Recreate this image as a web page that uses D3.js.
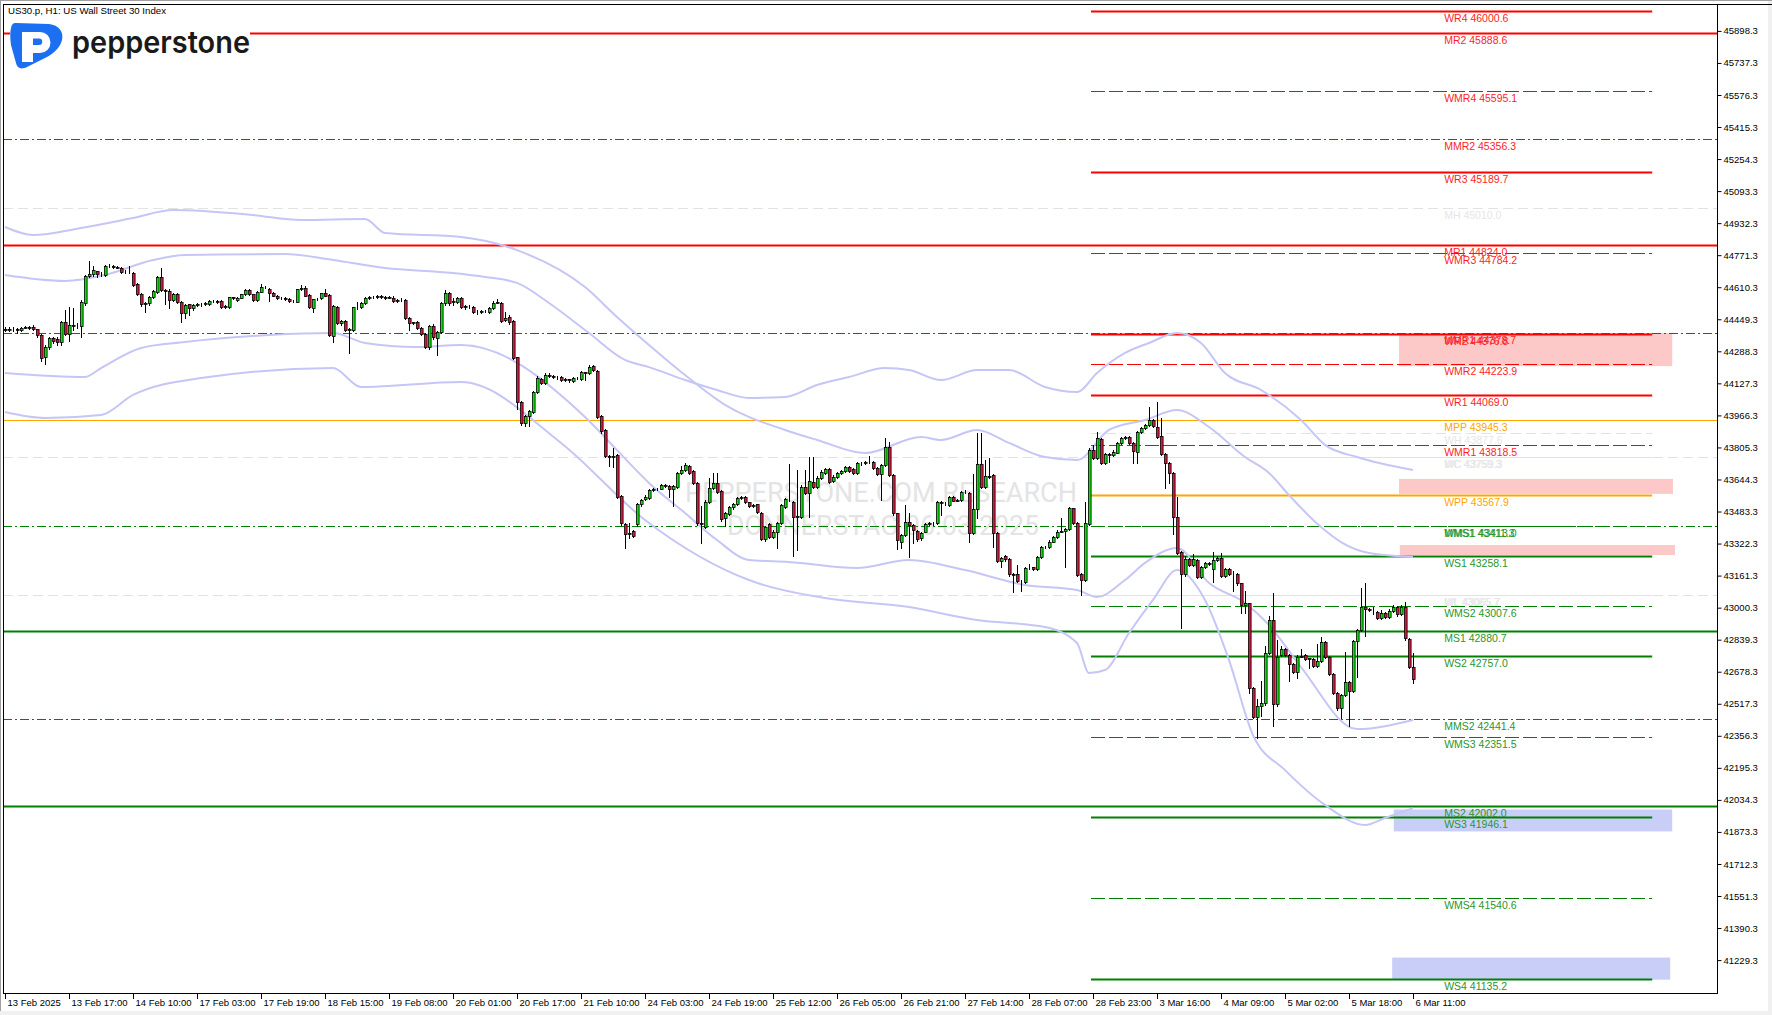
<!DOCTYPE html>
<html>
<head>
<meta charset="utf-8">
<script src="https://cdn.jsdelivr.net/npm/d3@7/dist/d3.min.js"></script>
<style>
body { margin: 0; background: #fff; }
svg { display: block; font-family: "Liberation Sans", Arial, sans-serif; }
</style>
</head>
<body>
<div id="chart"></div>
<script>
// ---- data ----
var symbolTitle = 'US30.p, H1:  US Wall Street 30 Index';

var priceTicks = [45898.3, 45737.3, 45576.3, 45415.3, 45254.3, 45093.3, 44932.3, 44771.3, 44610.3,
    44449.3, 44288.3, 44127.3, 43966.3, 43805.3, 43644.3, 43483.3, 43322.3, 43161.3, 43000.3,
    42839.3, 42678.3, 42517.3, 42356.3, 42195.3, 42034.3, 41873.3, 41712.3, 41551.3, 41390.3, 41229.3];

var timeLabels = ['13 Feb 2025', '13 Feb 17:00', '14 Feb 10:00', '17 Feb 03:00', '17 Feb 19:00',
    '18 Feb 15:00', '19 Feb 08:00', '20 Feb 01:00', '20 Feb 17:00', '21 Feb 10:00', '24 Feb 03:00',
    '24 Feb 19:00', '25 Feb 12:00', '26 Feb 05:00', '26 Feb 21:00', '27 Feb 14:00', '28 Feb 07:00',
    '28 Feb 23:00', '3 Mar 16:00', '4 Mar 09:00', '5 Mar 02:00', '5 Mar 18:00', '6 Mar 11:00'];

// H1 candles, [open, high, low, close]
var ohlc = [
[44398,44408,44388,44396],[44396,44410,44390,44400],[44400,44408,44392,44398],[44398,44404,44380,44395],
[44395,44412,44390,44407],[44407,44418,44403,44410],[44410,44415,44398,44406],[44412,44420,44395,44399],
[44399,44402,44362,44370],[44370,44375,44241,44256],[44261,44320,44223,44312],[44312,44360,44300,44354],
[44354,44362,44330,44340],[44350,44358,44318,44333],[44337,44440,44318,44434],[44434,44496,44370,44374],
[44374,44510,44340,44420],[44420,44504,44395,44416],[44416,44430,44405,44418],[44418,44545,44362,44538],
[44530,44672,44520,44667],[44667,44742,44660,44675],[44675,44718,44668,44695],[44690,44692,44663,44678],
[44678,44688,44668,44677],[44672,44722,44665,44719],[44719,44726,44710,44716],[44716,44722,44708,44713],
[44713,44716,44705,44709],[44709,44712,44680,44685],[44685,44695,44680,44688],[44688,44717,44682,44685],
[44680,44688,44615,44621],[44625,44632,44570,44576],[44578,44582,44518,44524],[44524,44535,44484,44529],
[44529,44565,44522,44559],[44559,44595,44555,44591],[44588,44665,44580,44662],[44662,44709,44590,44596],
[44596,44600,44524,44593],[44591,44600,44504,44546],[44546,44580,44540,44576],[44576,44582,44530,44538],
[44538,44542,44434,44479],[44479,44524,44454,44521],[44524,44528,44471,44507],[44504,44525,44498,44521],
[44521,44530,44515,44524],[44524,44532,44518,44528],[44528,44535,44520,44529],[44524,44545,44520,44541],
[44541,44546,44535,44540],[44540,44545,44530,44537],[44541,44545,44508,44513],[44513,44520,44508,44516],
[44513,44562,44508,44560],[44560,44562,44550,44554],[44546,44562,44540,44558],[44558,44578,44555,44576],
[44576,44600,44570,44596],[44596,44600,44570,44575],[44575,44578,44540,44546],[44546,44590,44540,44588],
[44588,44625,44585,44611],[44611,44615,44608,44612],[44601,44605,44541,44580],[44583,44588,44565,44568],
[44568,44570,44550,44555],[44555,44562,44552,44558],[44558,44560,44545,44551],[44551,44555,44538,44541],
[44541,44546,44536,44540],[44538,44602,44535,44600],[44600,44622,44598,44608],[44608,44615,44565,44568],
[44571,44575,44505,44509],[44504,44552,44488,44549],[44549,44556,44545,44551],[44554,44583,44550,44580],
[44580,44600,44565,44568],[44571,44575,44365,44370],[44367,44520,44337,44516],[44509,44515,44425,44429],
[44429,44445,44420,44440],[44440,44445,44390,44395],[44395,44405,44278,44399],[44395,44512,44390,44509],
[44509,44538,44500,44512],[44512,44535,44508,44529],[44529,44560,44525,44554],[44554,44568,44550,44563],
[44563,44568,44555,44560],[44560,44570,44556,44566],[44566,44570,44555,44561],[44561,44566,44552,44558],
[44558,44568,44554,44563],[44558,44568,44538,44541],[44541,44550,44538,44546],[44546,44555,44540,44544],
[44546,44552,44452,44457],[44457,44462,44395,44429],[44429,44438,44425,44434],[44437,44442,44398,44404],
[44404,44408,44368,44373],[44373,44378,44305,44312],[44312,44422,44300,44417],[44417,44425,44352,44360],
[44357,44390,44270,44383],[44383,44535,44378,44529],[44529,44595,44520,44580],[44580,44585,44520,44529],
[44535,44555,44520,44541],[44538,44562,44530,44558],[44556,44560,44505,44509],[44509,44522,44500,44516],
[44516,44522,44508,44518],[44512,44515,44480,44484],[44484,44495,44478,44488],[44488,44496,44482,44489],
[44489,44498,44485,44492],[44487,44510,44482,44504],[44504,44540,44500,44533],[44533,44549,44530,44538],
[44529,44535,44438,44442],[44446,44487,44440,44457],[44462,44470,44425,44437],[44440,44445,44250,44256],
[44258,44262,44000,44035],[44035,44040,43920,43930],[43926,43970,43915,43963],[43965,43995,43913,43988],
[43985,44090,43980,44085],[44085,44165,44080,44152],[44149,44155,44122,44127],[44127,44180,44122,44169],
[44169,44180,44160,44164],[44164,44170,44152,44157],[44157,44165,44150,44160],[44161,44165,44140,44144],
[44144,44152,44140,44147],[44147,44150,44132,44143],[44139,44160,44135,44156],[44156,44160,44148,44152],
[44147,44190,44142,44182],[44182,44186,44144,44180],[44180,44218,44175,44211],[44214,44218,44190,44194],
[44190,44195,43955,43960],[43963,43968,43880,43889],[43893,43898,43755,43762],[43762,43768,43712,43755],
[43755,43800,43708,43762],[43767,43772,43550,43558],[43561,43565,43418,43424],[43420,43425,43301,43368],
[43368,43424,43348,43373],[43385,43390,43355,43362],[43419,43525,43412,43519],[43519,43548,43512,43541],
[43544,43565,43540,43558],[43553,43598,43548,43591],[43591,43600,43588,43595],[43595,43602,43590,43598],
[43598,43622,43594,43616],[43616,43620,43608,43614],[43614,43618,43558,43595],[43595,43616,43511,43614],
[43605,43684,43600,43678],[43678,43712,43672,43692],[43692,43725,43688,43717],[43712,43715,43672,43678],
[43687,43690,43620,43625],[43625,43630,43418,43424],[43424,43511,43326,43420],[43407,43540,43400,43533],
[43533,43653,43528,43603],[43603,43675,43598,43625],[43625,43678,43578,43583],[43588,43592,43438,43444],
[43449,43482,43410,43477],[43470,43510,43465,43504],[43504,43525,43498,43519],[43519,43555,43515,43549],
[43549,43560,43545,43554],[43558,43562,43524,43529],[43529,43532,43505,43511],[43511,43520,43508,43516],
[43519,43522,43476,43482],[43477,43480,43338,43343],[43343,43412,43336,43407],[43420,43425,43350,43357],
[43357,43388,43352,43382],[43382,43432,43300,43427],[43427,43522,43420,43516],[43507,43550,43502,43544],
[43544,43720,43538,43548],[43529,43535,43260,43457],[43457,43692,43290,43462],[43457,43615,43450,43608],
[43608,43692,43572,43578],[43578,43755,43457,43636],[43633,43755,43603,43608],[43608,43660,43602,43653],
[43653,43690,43648,43682],[43678,43700,43672,43695],[43695,43700,43625,43633],[43638,43665,43632,43658],
[43658,43680,43652,43675],[43675,43692,43670,43688],[43688,43712,43682,43705],[43705,43712,43683,43688],
[43695,43700,43670,43675],[43675,43730,43670,43725],[43725,43732,43718,43728],[43728,43738,43720,43732],
[43732,43764,43725,43730],[43732,43736,43695,43700],[43700,43705,43667,43672],[43672,43722,43541,43717],
[43717,43851,43712,43809],[43806,43831,43662,43667],[43667,43672,43468,43474],[43474,43478,43293,43340],
[43332,43370,43298,43365],[43365,43516,43360,43432],[43432,43474,43256,43415],[43415,43420,43323,43390],
[43385,43390,43335,43343],[43348,43380,43340,43374],[43382,43425,43378,43419],[43419,43430,43415,43424],
[43424,43432,43418,43427],[43427,43535,43420,43529],[43529,43535,43466,43524],[43524,43532,43518,43526],
[43516,43560,43510,43555],[43555,43560,43534,43538],[43538,43545,43535,43541],[43541,43588,43536,43583],
[43583,43590,43575,43580],[43575,43580,43328,43374],[43374,43670,43368,43494],[43494,43876,43449,43720],
[43720,43876,43600,43608],[43608,43742,43600,43662],[43662,43750,43650,43658],[43665,43670,43307,43374],
[43374,43378,43228,43234],[43234,43255,43206,43248],[43261,43265,43235,43243],[43243,43248,43160,43168],
[43168,43175,43077,43165],[43168,43215,43128,43134],[43134,43140,43084,43135],[43131,43205,43125,43198],
[43198,43218,43195,43201],[43203,43206,43188,43193],[43193,43262,43188,43256],[43256,43308,43250,43303],
[43303,43312,43300,43307],[43307,43338,43302,43332],[43332,43362,43328,43357],[43357,43388,43352,43382],
[43382,43449,43380,43385],[43385,43398,43206,43393],[43393,43505,43388,43499],[43499,43503,43420,43427],
[43427,43432,43158,43164],[43168,43172,43064,43139],[43139,43533,43132,43424],[43420,43800,43415,43792],
[43792,43817,43748,43754],[43754,43884,43748,43851],[43846,43852,43722,43729],[43729,43775,43720,43772],
[43772,43778,43733,43767],[43767,43790,43762,43784],[43779,43835,43775,43829],[43829,43860,43825,43854],
[43854,43862,43850,43856],[43859,43862,43825,43829],[43829,43833,43729,43787],[43784,43886,43725,43881],
[43884,43910,43880,43905],[43905,43925,43900,43918],[43918,44010,43912,43943],[43943,43950,43908,43913],
[43910,44035,43855,43859],[43862,43951,43765,43770],[43770,43775,43603,43729],[43729,43733,43625,43675],
[43678,43682,43369,43457],[43457,43554,43270,43276],[43281,43285,42900,43168],[43168,43258,43160,43243],
[43243,43250,43208,43214],[43214,43270,43208,43243],[43240,43245,43150,43156],[43156,43212,43150,43206],
[43206,43230,43200,43223],[43223,43228,43215,43220],[43193,43281,43131,43240],[43240,43260,43235,43248],
[43248,43275,43152,43159],[43159,43198,43152,43193],[43193,43198,43162,43168],[43168,43184,43084,43170],
[43170,43175,43115,43122],[43122,43126,42975,43013],[43013,43084,42975,43022],[43022,43026,42573,42595],
[42595,42600,42445,42452],[42452,42539,42343,42506],[42506,42631,42456,42519],[42519,42807,42512,42771],
[42771,42958,42765,42938],[42938,43075,42405,42514],[42514,42837,42508,42754],[42762,42807,42755,42791],
[42791,42798,42756,42762],[42762,42766,42632,42715],[42715,42720,42672,42678],[42678,42760,42645,42754],
[42754,42791,42750,42757],[42762,42766,42735,42740],[42740,42748,42695,42745],[42740,42745,42702,42707],
[42707,42816,42700,42732],[42732,42854,42726,42829],[42829,42834,42745,42750],[42750,42755,42660,42665],
[42665,42670,42568,42573],[42573,42578,42488,42494],[42494,42566,42444,42561],[42561,42779,42555,42628],
[42628,42633,42405,42581],[42581,42840,42575,42834],[42834,42895,42650,42888],[42888,43097,42882,43005],
[43005,43122,42858,42992],[42992,43000,42982,42988],[42988,43005,42966,42990],[42980,42985,42945,42950],
[42950,42990,42945,42972],[42972,42980,42950,42955],[42955,42995,42950,42983],[42983,43012,42978,43005],
[43005,43010,42960,42968],[42968,43015,42962,43005],[43005,43030,42840,42846],[42841,42846,42695,42703],
[42703,42774,42623,42640]
];

// envelope bands, [bar, price]
var bandOuterUpper = [[0,44913],[7,44873],[19,44908],[32,44958],[42,44998],[62,44973],[74,44948],[90,44953],
    [95,44883],[114,44863],[128,44797],[145,44611],[153,44461],[161,44320],[170,44169],[180,44019],[195,43893],
    [203,43843],[215,43777],[229,43858],[234,43843],[243,43893],[251,43828],[260,43757],[268,43742],[276,43893],
    [285,43943],[293,43993],[301,43908],[310,43757],[316,43677],[321,43566],[329,43405],[334,43330],[341,43275],
    [352,43255]];
var bandInnerUpper = [[0,44672],[15,44642],[25,44672],[37,44747],[45,44772],[70,44777],[82,44747],[95,44707],
    [112,44682],[120,44662],[128,44632],[136,44531],[146,44380],[155,44245],[161,44209],[170,44144],[178,44094],
    [186,44054],[195,44059],[203,44119],[211,44159],[220,44204],[226,44194],[234,44144],[243,44194],[251,44194],
    [260,44109],[268,44084],[273,44179],[280,44280],[286,44330],[293,44380],[299,44330],[305,44179],[314,44094],
    [324,43943],[330,43818],[338,43757],[352,43692]];
var bandInnerLower = [[0,44179],[20,44159],[24,44204],[34,44305],[45,44335],[66,44370],[82,44380],[90,44330],
    [103,44310],[114,44320],[145,43958],[153,43792],[161,43627],[170,43476],[178,43340],[186,43240],[196,43230],
    [213,43199],[226,43240],[240,43189],[255,43114],[268,43089],[273,43054],[280,43139],[285,43225],[293,43300],
    [301,43124],[310,43024],[316,42913],[324,42702],[338,42390],[352,42436]];
var bandOuterLower = [[0,43983],[10,43953],[24,43968],[32,44069],[49,44154],[82,44204],[89,44109],[114,44134],
    [139,43828],[160,43441],[186,43139],[205,43049],[226,43003],[243,42938],[260,42903],[268,42823],[271,42672],
    [275,42687],[281,42873],[287,43039],[293,43189],[300,43039],[306,42737],[312,42360],[320,42184],[330,42009],
    [340,41908],[345,41943],[352,41993]];

// pivot levels of the previous month (drawn across the chart)
var monthlyLevels = [
    {name: 'MR2', value: 45888.6}, {name: 'MMR2', value: 45356.3}, {name: 'MH', value: 45010.0},
    {name: 'MR1', value: 44824.0}, {name: 'MMR1', value: 44378.7}, {name: 'MPP', value: 43945.3},
    {name: 'MC', value: 43759.3}, {name: 'MMS1', value: 43411.3}, {name: 'ML', value: 43065.7},
    {name: 'MS1', value: 42880.7}, {name: 'MMS2', value: 42441.4}, {name: 'MS2', value: 42002.0}
];
// pivot levels of the previous week (drawn for the current week)
var weeklyLevels = [
    {name: 'WR4', value: 46000.6}, {name: 'WMR4', value: 45595.1}, {name: 'WR3', value: 45189.7},
    {name: 'WMR3', value: 44784.2}, {name: 'WR2', value: 44376.8}, {name: 'WMR2', value: 44223.9},
    {name: 'WR1', value: 44069.0}, {name: 'WH', value: 43877.6}, {name: 'WMR1', value: 43818.5},
    {name: 'WC', value: 43759.3}, {name: 'WPP', value: 43567.9}, {name: 'WMS1', value: 43413.0},
    {name: 'WS1', value: 43258.1}, {name: 'WL', value: 43065.7}, {name: 'WMS2', value: 43007.6},
    {name: 'WS2', value: 42757.0}, {name: 'WMS3', value: 42351.5}, {name: 'WS3', value: 41946.1},
    {name: 'WMS4', value: 41540.6}, {name: 'WS4', value: 41135.2}
];

// supply / demand zones: price band and bar range
var zones = [
    {side: 'supply', top: 44380, bottom: 44214, from: 348.5, to: 416.8},
    {side: 'supply', top: 43647, bottom: 43572, from: 348.5, to: 417},
    {side: 'supply', top: 43315, bottom: 43265, from: 348.7, to: 417.5},
    {side: 'demand', top: 41986, bottom: 41876, from: 347.2, to: 416.8},
    {side: 'demand', top: 41242, bottom: 41131, from: 346.8, to: 416.3}
];

var watermark = ['PEPPERSTONE.COM RESEARCH', 'DONNERSTAG 06.03.2025'];

// ---- layout ----
var width = 1772, height = 1015;
var frame = {left: 3, top: 4, right: 1717, bottom: 993};
var barsPerLabel = 16;
var weekFrom = 271.5, weekTo = 411.8, labelBar = 359.8;

var x = d3.scaleLinear().domain([0, 352]).range([5, 1413]);
var y = d3.scaleLinear().domain([45898.3, 41229.3]).range([30.9, 960.1]);

var svg = d3.select('#chart').append('svg')
    .attr('width', width)
    .attr('height', height);

svg.append('rect').attr('width', width).attr('height', height).attr('fill', '#f0f0f0');
svg.append('rect').attr('x', 0).attr('y', 0).attr('width', 1768).attr('height', 1011).attr('fill', '#fff');
svg.append('line').attr('x1', 0).attr('x2', width).attr('y1', 0.5).attr('y2', 0.5)
    .attr('stroke', '#a0a0a0').attr('stroke-width', 1);
svg.append('line').attr('x1', 0.5).attr('x2', 0.5).attr('y1', 0).attr('y2', 1011)
    .attr('stroke', '#a0a0a0').attr('stroke-width', 1);

svg.append('clipPath').attr('id', 'plotClip')
    .append('rect')
    .attr('x', frame.left).attr('y', frame.top)
    .attr('width', frame.right - frame.left).attr('height', frame.bottom - frame.top);

var plot = svg.append('g').attr('clip-path', 'url(#plotClip)');

// watermark
var wm = plot.append('g')
    .attr('fill', '#e4e4e4')
    .attr('font-family', 'Roboto, "Liberation Sans", sans-serif')
    .attr('text-anchor', 'middle');
wm.append('text').attr('x', 881).attr('y', 502).attr('font-size', 27)
    .attr('textLength', 392).attr('lengthAdjust', 'spacingAndGlyphs').text(watermark[0]);
wm.append('text').attr('x', 883).attr('y', 535).attr('font-size', 27)
    .attr('textLength', 312).attr('lengthAdjust', 'spacingAndGlyphs').text(watermark[1]);

// zones
plot.append('g').selectAll('rect')
    .data(zones)
    .enter().append('rect')
    .attr('x', function (d) { return x(d.from); })
    .attr('width', function (d) { return x(d.to) - x(d.from); })
    .attr('y', function (d) { return y(d.top); })
    .attr('height', function (d) { return y(d.bottom) - y(d.top); })
    .attr('fill', function (d) { return d.side === 'supply' ? '#fcc8c8' : '#c8cef8'; });

function levelKind(name) {
    var rest = name.slice(1);
    if (rest === 'PP') return 'pp';
    if (rest === 'H' || rest === 'L' || rest === 'C') return 'hlc';
    if (rest.charAt(0) === 'M') return 'mid';
    return 'main';
}
function levelColor(name) {
    var k = levelKind(name);
    if (k === 'pp') return '#ffa500';
    if (k === 'hlc') return '#e2e2e2';
    return name.indexOf('R') >= 0 ? '#ff0000' : '#008000';
}
function labelColor(name) {
    var k = levelKind(name);
    if (k === 'pp') return '#ffa500';
    if (k === 'hlc') return '#e6e6e6';
    return name.indexOf('R') >= 0 ? '#ff1e1e' : '#2a962a';
}

function drawLevels(levels, monthly) {
    var g = plot.append('g');
    g.selectAll('line')
        .data(levels)
        .enter().append('line')
        .attr('x1', monthly ? frame.left : x(weekFrom))
        .attr('x2', monthly ? frame.right : x(weekTo))
        .attr('y1', function (d) { return Math.round(y(d.value)) + 0.5; })
        .attr('y2', function (d) { return Math.round(y(d.value)) + 0.5; })
        .attr('stroke', function (d) { return levelColor(d.name); })
        .attr('stroke-width', function (d) {
            var k = levelKind(d.name);
            if (k === 'main') return 2;
            if (k === 'pp') return monthly ? 1 : 2;
            return 1;
        })
        .attr('stroke-dasharray', function (d) {
            var k = levelKind(d.name);
            if (k === 'mid') return monthly ? '9,3,2,3' : '14,4';
            if (k === 'hlc') return '10,5';
            return null;
        });
}
drawLevels(monthlyLevels, true);
drawLevels(weeklyLevels, false);

// bands
var bandLine = d3.line()
    .x(function (d) { return x(d[0]); })
    .y(function (d) { return y(d[1]); })
    .curve(d3.curveMonotoneX);
[bandOuterUpper, bandInnerUpper, bandInnerLower, bandOuterLower].forEach(function (b) {
    plot.append('path')
        .attr('d', bandLine(b))
        .attr('fill', 'none')
        .attr('stroke', '#c6c6f6')
        .attr('stroke-width', 2);
});

// candles
var candles = plot.append('g');
candles.selectAll('line')
    .data(ohlc)
    .enter().append('line')
    .attr('x1', function (d, i) { return Math.round(x(i)) + 0.5; })
    .attr('x2', function (d, i) { return Math.round(x(i)) + 0.5; })
    .attr('y1', function (d) { return Math.round(y(d[1])); })
    .attr('y2', function (d) { return Math.round(y(d[2])) + 1; })
    .attr('stroke', '#000')
    .attr('stroke-width', 1);
candles.selectAll('rect')
    .data(ohlc)
    .enter().append('rect')
    .attr('x', function (d, i) { return Math.round(x(i)) - 0.5; })
    .attr('width', 2.6)
    .attr('y', function (d) { return Math.round(y(Math.max(d[0], d[3]))) + 0.5; })
    .attr('height', function (d) {
        return Math.max(0, Math.round(y(Math.min(d[0], d[3]))) - Math.round(y(Math.max(d[0], d[3]))));
    })
    .attr('fill', function (d) { return d[3] >= d[0] ? '#00e600' : '#dc143c'; })
    .attr('stroke', '#000')
    .attr('stroke-width', 0.8);

// level labels
function drawLabels(levels) {
    plot.append('g').selectAll('text')
        .data(levels)
        .enter().append('text')
        .attr('x', x(labelBar))
        .attr('y', function (d) { return y(d.value) + 11; })
        .attr('font-size', 10.5)
        .attr('fill', function (d) { return labelColor(d.name); })
        .text(function (d) { return d.name + ' ' + d.value.toFixed(1); });
}
drawLabels(monthlyLevels);
drawLabels(weeklyLevels);

// logo
var logo = svg.append('g');
logo.append('rect').attr('x', 10).attr('y', 20).attr('width', 240).attr('height', 52).attr('fill', '#fff');
logo.append('path')
    .attr('d', 'M16,23 L49,24 C59,25 64,32 62,40 C60,48 53,54 45,58 L27,67 C21,70 17,68 16,63 L11,45 C10,38 10,32 11,28 C12,24 13,23 16,23 Z')
    .attr('fill', '#1d6ff2');
logo.append('path')
    .attr('d', 'M22,32 H40 A10.5,10.5 0 0 1 40,53 H33 V62 H22 Z M33,38.5 H39 A3.25,3.25 0 0 1 39,45 H33 Z')
    .attr('fill', '#fff')
    .attr('fill-rule', 'evenodd');
logo.append('text')
    .attr('x', 72).attr('y', 53)
    .attr('font-family', 'Inter, "Open Sans", sans-serif')
    .attr('font-weight', 600)
    .attr('font-size', 30)
    .attr('fill', '#1a1a1a')
    .attr('textLength', 178)
    .attr('lengthAdjust', 'spacingAndGlyphs')
    .text('pepperstone');

svg.append('text')
    .attr('x', 8).attr('y', 14)
    .attr('font-size', 9.5)
    .attr('fill', '#000')
    .attr('textLength', 158)
    .attr('lengthAdjust', 'spacingAndGlyphs')
    .text(symbolTitle);

// frame
svg.append('line').attr('x1', frame.left + 0.5).attr('x2', frame.left + 0.5)
    .attr('y1', frame.top).attr('y2', frame.bottom).attr('stroke', '#000');
svg.append('line').attr('x1', frame.left).attr('x2', width)
    .attr('y1', frame.top + 0.5).attr('y2', frame.top + 0.5).attr('stroke', '#000');
svg.append('line').attr('x1', frame.right + 0.5).attr('x2', frame.right + 0.5)
    .attr('y1', frame.top).attr('y2', frame.bottom + 1).attr('stroke', '#000');
svg.append('line').attr('x1', frame.left).attr('x2', frame.right + 1)
    .attr('y1', frame.bottom + 0.5).attr('y2', frame.bottom + 0.5).attr('stroke', '#000');

// price axis
var yAxis = d3.axisRight(y)
    .tickValues(priceTicks)
    .tickFormat(d3.format('.1f'))
    .tickSize(4)
    .tickPadding(2);
svg.append('g')
    .attr('transform', 'translate(' + (frame.right + 0.5) + ',0)')
    .call(yAxis)
    .call(function (g) {
        g.select('.domain').remove();
        g.selectAll('text').attr('font-size', 9.5).attr('fill', '#000')
            .attr('font-family', '"Liberation Sans", Arial, sans-serif');
        g.selectAll('line').attr('stroke', '#000');
    });

// time axis
var timeG = svg.append('g');
timeLabels.forEach(function (t, k) {
    var px = Math.round(x(k * barsPerLabel)) + 0.5;
    timeG.append('line')
        .attr('x1', px).attr('x2', px)
        .attr('y1', frame.bottom).attr('y2', frame.bottom + 6)
        .attr('stroke', '#000');
    timeG.append('text')
        .attr('x', px + 2).attr('y', 1006)
        .attr('font-size', 9.5)
        .attr('fill', '#000')
        .text(t);
});
</script>
</body>
</html>
